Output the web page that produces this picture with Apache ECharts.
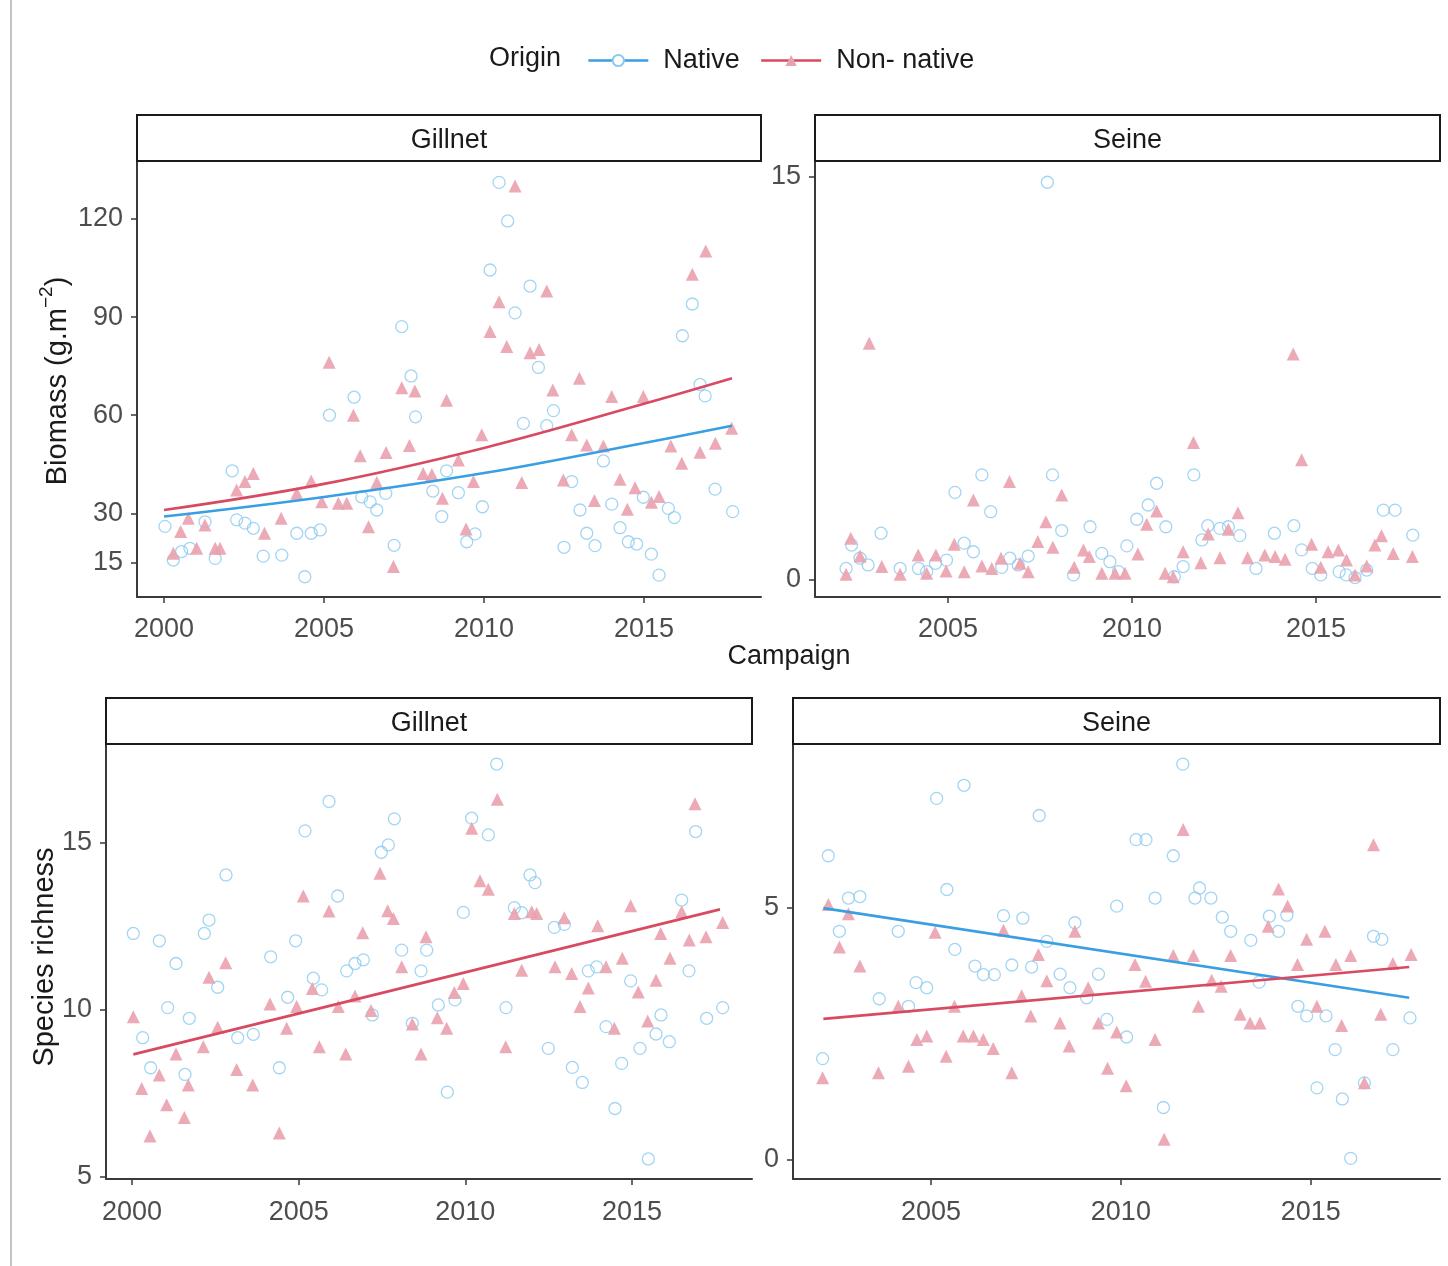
<!DOCTYPE html>
<html>
<head>
<meta charset="utf-8">
<script src="https://cdn.jsdelivr.net/npm/echarts@6/dist/echarts.min.js"></script>
<style>
  html, body { margin: 0; padding: 0; background: #fff; }
  #chart { width: 1448px; height: 1266px; }
</style>
</head>
<body>
<div id="chart"></div>
<script>
// ---- Data: [campaign (decimal year), value] ----
const gillnetBiomassNative = [
  [2007.43,87.1],[2007.72,72],[2005.94,65.5],[2005.17,60],[2007.86,59.5],[2002.13,43],[2008.83,43],[2008.4,36.8],
  [2006.93,36.1],[2006.18,35],[2006.44,33.5],[2006.65,31],[2008.68,29],[2000.03,26],[2002.27,28],[2002.53,27],
  [2002.79,25.4],[2001.28,27.4],[2004.15,23.9],[2004.6,23.9],[2004.88,24.9],[2000.29,15.7],[2000.55,18.3],
  [2000.81,19.3],[2001.6,16.2],[2003.1,16.9],[2003.68,17.2],[2004.4,10.6],[2007.19,20.2],
  [2010.47,131.2],[2010.74,119.4],[2010.19,104.4],[2011.44,99.5],[2010.97,91.3],[2016.2,84.3],[2016.51,94],
  [2011.7,74.6],[2012.17,61.4],[2011.23,57.5],[2011.96,56.8],[2016.75,69.4],[2016.91,65.9],[2009.2,36.3],
  [2009.95,32],[2009.72,23.7],[2009.46,21.3],[2013.73,46],[2012.74,39.7],[2013,31],[2013.99,32.8],[2013.21,23.9],
  [2013.47,20.1],[2012.5,19.6],[2014.25,25.6],[2014.51,21.3],[2014.77,20.6],[2014.98,34.9],[2015.23,17.5],
  [2015.47,11.1],[2015.76,31.5],[2015.95,28.7],[2017.22,37.4],[2017.77,30.5]
];
const gillnetBiomassNonNative = [
  [2005.16,76.2],[2007.43,68.4],[2007.84,67.4],[2008.83,64.6],[2005.92,60],[2007.67,50.7],[2006.13,47.6],
  [2006.94,48.6],[2008.1,42.2],[2008.37,41.9],[2002.79,42.2],[2002.53,39.7],[2002.27,37.1],[2004.6,39.9],
  [2006.65,39.4],[2004.15,36.1],[2004.93,33.5],[2005.45,33.1],[2005.71,33.1],[2008.7,34.6],[2000.76,28.5],
  [2001.28,26.4],[2000.52,24.4],[2003.66,28.5],[2003.14,23.9],[2006.39,25.9],[2000.29,17.8],[2001.02,19.3],
  [2001.6,19.3],[2001.75,19.3],[2007.17,13.7],
  [2010.97,130.1],[2016.93,110.2],[2016.51,103.1],[2011.96,98],[2010.47,94.7],[2010.19,85.6],[2010.71,81],
  [2011.44,79.1],[2011.72,80.1],[2012.98,71.3],[2012.15,67.7],[2013.99,65.7],[2014.98,65.7],[2009.93,54],
  [2012.74,54],[2013.21,50.9],[2013.73,50.6],[2015.84,50.6],[2017.74,56],[2017.23,51.4],[2016.75,48.7],
  [2016.18,45.3],[2009.2,46.3],[2009.67,39.7],[2011.18,39.4],[2012.48,40.2],[2014.25,40.4],[2014.72,37.8],
  [2015.47,35.1],[2015.23,33.4],[2013.45,33.9],[2014.48,31.2],[2009.44,25.2]
];
const gillnetBiomassNativeTrend = [[2000,29],[2005,35],[2010,42.3],[2015,51.5],[2017.75,56.8]];
const gillnetBiomassNonNativeTrend = [[2000,31],[2005,39],[2010,50],[2015,63.5],[2017.75,71.3]];

const seineBiomassNative = [
  [2007.7,14.8],[2005.92,3.91],[2007.84,3.91],[2005.19,3.26],[2006.16,2.54],[2003.18,1.74],[2008.86,1.98],
  [2008.09,1.84],[2002.38,1.3],[2005.44,1.37],[2005.69,1.05],[2009.86,1.27],[2009.18,0.99],[2007.18,0.89],
  [2006.68,0.81],[2004.96,0.74],[2004.66,0.62],[2002.83,0.56],[2002.61,0.81],[2002.23,0.43],[2003.7,0.43],
  [2004.2,0.43],[2004.42,0.31],[2006.46,0.47],[2006.91,0.56],[2008.41,0.19],[2009.4,0.68],[2009.63,0.31],
  [2011.68,3.91],[2010.67,3.6],[2010.44,2.79],[2010.13,2.26],[2010.92,1.98],[2016.83,2.6],[2017.15,2.6],
  [2014.4,2.02],[2013.87,1.74],[2012.06,2.02],[2012.39,1.92],[2012.62,1.98],[2012.93,1.65],[2011.9,1.49],
  [2017.63,1.67],[2014.61,1.12],[2011.39,0.5],[2013.37,0.43],[2014.9,0.43],[2015.13,0.19],[2015.63,0.31],
  [2015.82,0.19],[2016.06,0.09],[2016.38,0.37],[2011.15,0.12]
];
const seineBiomassNonNative = [
  [2002.86,8.81],[2006.67,3.66],[2008.09,3.16],[2005.69,2.98],[2007.66,2.17],[2002.36,1.55],[2002.61,0.89],
  [2005.17,1.33],[2007.44,1.43],[2007.85,1.22],[2008.68,1.12],[2008.84,0.87],[2004.19,0.93],[2004.67,0.93],
  [2003.2,0.5],[2002.23,0.21],[2003.7,0.21],[2004.42,0.25],[2004.95,0.33],[2005.44,0.31],[2005.92,0.52],
  [2006.19,0.43],[2006.44,0.81],[2006.96,0.62],[2007.18,0.31],[2008.43,0.47],[2009.18,0.25],[2009.54,0.25],
  [2009.81,0.25],
  [2014.38,8.41],[2011.67,5.12],[2014.61,4.47],[2010.67,2.57],[2010.4,2.07],[2012.88,2.5],[2012.07,1.71],
  [2012.62,1.89],[2016.78,1.65],[2016.6,1.3],[2014.88,1.33],[2015.33,1.05],[2015.61,1.12],[2010.16,0.97],
  [2011.39,1.05],[2012.39,0.83],[2013.14,0.83],[2013.61,0.93],[2013.89,0.87],[2014.16,0.77],[2017.1,0.99],
  [2017.62,0.87],[2015.83,0.74],[2011.87,0.64],[2015.13,0.47],[2016.38,0.52],[2010.9,0.25],[2011.12,0.12],
  [2016.06,0.19]
];

const gillnetRichnessNative = [
  [2005.91,16.24],[2005.19,15.36],[2007.87,15.72],[2007.48,14.72],[2007.69,14.94],[2002.82,14.04],[2006.17,13.41],
  [2002.31,12.69],[2002.17,12.29],[2000.04,12.29],[2000.82,12.07],[2004.91,12.07],[2001.32,11.39],[2004.16,11.59],
  [2008.09,11.79],[2008.84,11.79],[2006.44,11.17],[2006.69,11.39],[2006.94,11.5],[2008.67,11.17],[2005.44,10.95],
  [2005.69,10.6],[2002.57,10.68],[2004.67,10.38],[2001.07,10.07],[2001.72,9.75],[2007.21,9.85],[2008.41,9.6],
  [2000.32,9.17],[2003.17,9.17],[2003.64,9.27],[2000.56,8.27],[2001.59,8.07],[2004.42,8.27],
  [2010.94,17.36],[2010.19,15.74],[2010.69,15.24],[2016.91,15.34],[2011.94,14.04],[2012.09,13.81],[2009.94,12.92],
  [2011.47,13.06],[2011.69,12.91],[2016.49,13.29],[2012.67,12.47],[2012.97,12.56],[2013.69,11.17],[2013.94,11.29],
  [2016.71,11.17],[2014.96,10.87],[2009.19,10.15],[2009.69,10.3],[2011.22,10.07],[2015.87,9.85],[2017.72,10.07],
  [2017.24,9.75],[2014.22,9.5],[2015.72,9.28],[2016.12,9.05],[2012.49,8.85],[2015.24,8.85],[2013.21,8.28],
  [2013.51,7.83],[2014.69,8.4],[2009.46,7.54],[2014.49,7.05],[2015.49,5.54]
];
const gillnetRichnessNonNative = [
  [2007.44,14.09],[2005.14,13.41],[2005.91,12.96],[2007.67,12.97],[2007.84,12.74],[2006.92,12.31],[2008.82,12.19],
  [2002.81,11.41],[2008.09,11.29],[2002.31,10.98],[2005.41,10.64],[2004.14,10.18],[2004.94,10.1],[2006.69,10.42],
  [2006.19,10.1],[2007.17,9.98],[2000.04,9.8],[2008.41,9.58],[2002.57,9.48],[2004.64,9.45],[2002.14,8.9],
  [2001.32,8.68],[2005.62,8.9],[2006.41,8.68],[2008.67,8.68],[2000.82,8.05],[2001.69,7.75],[2000.29,7.65],
  [2003.14,8.22],[2003.62,7.75],[2001.04,7.16],[2001.57,6.78],[2000.54,6.23],[2004.42,6.32],
  [2010.96,16.31],[2016.89,16.17],[2010.19,15.44],[2010.44,13.87],[2010.69,13.61],[2011.47,12.89],[2011.99,12.94],
  [2012.14,12.89],[2012.97,12.76],[2014.96,13.12],[2016.49,12.94],[2013.97,12.52],[2015.86,12.29],[2016.72,12.09],
  [2017.22,12.19],[2017.72,12.62],[2014.71,11.55],[2016.14,11.55],[2014.22,11.29],[2012.69,11.29],[2011.69,11.19],
  [2013.19,11.09],[2013.69,10.66],[2015.72,10.89],[2015.19,10.54],[2009.94,10.79],[2009.67,10.52],[2013.44,10.1],
  [2009.16,9.77],[2009.44,9.45],[2015.47,9.67],[2014.47,9.45],[2011.21,8.9]
];
const gillnetRichnessNonNativeTrend = [[2000.04,8.67],[2017.64,13.01]];

const seineRichnessNative = [
  [2005.87,7.43],[2005.15,7.17],[2007.85,6.83],[2002.3,6.03],[2005.42,5.36],[2002.83,5.19],[2003.13,5.22],
  [2009.89,5.03],[2006.91,4.84],[2007.42,4.79],[2008.79,4.7],[2002.59,4.53],[2004.14,4.53],[2005.63,4.17],
  [2006.16,3.84],[2006.38,3.67],[2006.67,3.67],[2007.13,3.86],[2007.65,3.82],[2008.05,4.33],[2008.4,3.68],
  [2008.66,3.41],[2009.41,3.68],[2004.61,3.51],[2004.89,3.41],[2003.64,3.19],[2004.41,3.04],[2009.1,3.21],
  [2009.63,2.78],[2002.15,2.0],
  [2011.63,7.85],[2010.4,6.35],[2010.66,6.35],[2011.38,6.03],[2012.07,5.39],[2011.95,5.19],[2012.37,5.19],
  [2010.9,5.19],[2012.67,4.81],[2012.89,4.53],[2013.42,4.35],[2013.91,4.83],[2014.37,4.85],[2014.15,4.53],
  [2016.65,4.43],[2016.87,4.37],[2013.64,3.52],[2014.66,3.04],[2014.89,2.85],[2015.4,2.85],[2017.61,2.81],
  [2010.15,2.43],[2015.64,2.18],[2017.16,2.18],[2015.16,1.42],[2015.83,1.2],[2016.41,1.52],[2011.12,1.03],
  [2016.05,0.02]
];
const seineRichnessNonNative = [
  [2002.3,5.06],[2002.83,4.88],[2002.59,4.22],[2003.13,3.84],[2005.11,4.51],[2006.91,4.55],[2008.79,4.53],
  [2007.83,4.07],[2008.05,3.55],[2009.14,3.41],[2007.39,3.25],[2004.14,3.04],[2005.62,3.04],[2007.63,2.85],
  [2008.4,2.71],[2009.41,2.71],[2009.89,2.53],[2004.63,2.38],[2004.89,2.45],[2005.85,2.45],[2006.12,2.45],
  [2006.38,2.38],[2006.64,2.2],[2008.64,2.25],[2005.4,2.05],[2004.41,1.85],[2003.62,1.72],[2007.13,1.72],
  [2009.65,1.81],[2002.15,1.62],
  [2011.64,6.55],[2016.65,6.25],[2014.15,5.37],[2014.39,5.03],[2013.88,4.63],[2015.37,4.53],[2014.89,4.37],
  [2010.37,3.87],[2011.38,4.05],[2011.91,4.05],[2012.89,4.05],[2016.05,4.05],[2017.64,4.07],[2014.65,3.87],
  [2015.66,3.87],[2017.16,3.89],[2010.65,3.54],[2012.39,3.56],[2012.64,3.44],[2012.04,3.04],[2015.16,3.04],
  [2013.14,2.88],[2013.4,2.71],[2013.66,2.71],[2016.84,2.88],[2015.81,2.66],[2010.9,2.38],[2010.14,1.46],
  [2016.41,1.52],[2011.14,0.4]
];
const seineRichnessNativeTrend = [[2002.17,4.99],[2017.59,3.21]];
const seineRichnessNonNativeTrend = [[2002.17,2.79],[2017.59,3.82]];

// ---- Tick labels ----
const yearTicksFull = [2000, 2005, 2010, 2015];
const yearTicksSeine = [2005, 2010, 2015];
const biomassGillnetTicks = [15, 30, 60, 90, 120];
const biomassSeineTicks = [0, 15];
const richnessGillnetTicks = [5, 10, 15];
const richnessSeineTicks = [0, 5];

const panelTitles = ['Gillnet', 'Seine', 'Gillnet', 'Seine'];
const legendNames = ['Native', 'Non- native'];

// ---- Styling ----
const FONT = "'Liberation Sans', Arial, Helvetica, sans-serif";
const NATIVE_PT = '#8ccbf0';
const NONNATIVE_PT = '#e9a1ae';
const NATIVE_LINE = '#3a9fe2';
const NONNATIVE_LINE = '#d84a62';
const AXIS_COL = '#3a3a3a';
const TICK_TEXT = '#4d4d4d';

const grids = [
  { left: 137, top: 161, width: 624, height: 436 },
  { left: 815, top: 161, width: 625, height: 436 },
  { left: 106, top: 744, width: 646, height: 435 },
  { left: 793, top: 744, width: 647, height: 435 }
];

const plainNumber = v => String(v);

function xAxis(gridIndex, min, max, ticks, margin) {
  return {
    type: 'value', gridIndex, min, max,
    splitLine: { show: false },
    axisLine: { show: true, onZero: false, lineStyle: { color: AXIS_COL, width: 2 } },
    axisTick: { show: true, length: 6, lineStyle: { color: AXIS_COL, width: 1.5 }, customValues: ticks },
    axisLabel: { customValues: ticks, formatter: plainNumber, fontSize: 27, color: TICK_TEXT, fontFamily: FONT, margin }
  };
}
function yAxis(gridIndex, min, max, ticks) {
  return {
    type: 'value', gridIndex, min, max,
    splitLine: { show: false },
    axisLine: { show: true, onZero: false, lineStyle: { color: AXIS_COL, width: 2 } },
    axisTick: { show: true, length: 6, lineStyle: { color: AXIS_COL, width: 1.5 }, customValues: ticks },
    axisLabel: { customValues: ticks, formatter: plainNumber, fontSize: 27, color: TICK_TEXT, fontFamily: FONT, margin: 14 }
  };
}

function nativePoints(idx, data) {
  return {
    name: 'Native', type: 'scatter', xAxisIndex: idx, yAxisIndex: idx, data,
    symbol: 'circle', symbolSize: 12, z: 2,
    itemStyle: { color: 'rgba(0,0,0,0)', borderColor: NATIVE_PT, borderWidth: 1.3 },
    emphasis: { disabled: true }
  };
}
function nonNativePoints(idx, data) {
  return {
    name: 'Non- native', type: 'scatter', xAxisIndex: idx, yAxisIndex: idx, data,
    symbol: 'triangle', symbolSize: 13, z: 2,
    itemStyle: { color: NONNATIVE_PT, opacity: 0.9 },
    emphasis: { disabled: true }
  };
}
function trend(name, idx, data, color, symbol, smooth) {
  return {
    name, type: 'line', xAxisIndex: idx, yAxisIndex: idx, data,
    symbol, showSymbol: false, smooth: smooth ? 0.4 : false, z: 4,
    lineStyle: { color, width: 2.6 },
    itemStyle: { color },
    emphasis: { disabled: true }
  };
}

// Width of a text string, used to place the superscript in the biomass title
function textWidth(str, size) {
  const ctx = document.createElement('canvas').getContext('2d');
  ctx.font = size + 'px ' + FONT;
  return ctx.measureText(str).width;
}

const TITLE_SIZE = 29;
const bioMain = 'Biomass (g.m';
const bioSup = '\u22122';
const wMain = textWidth(bioMain, TITLE_SIZE);
const wSup = textWidth(bioSup, 19);
const wClose = textWidth(')', TITLE_SIZE);
const bioTotal = wMain + wSup + wClose;
const bioCenterY = 381;

function strip(idx, text) {
  const g = grids[idx];
  return [
    { type: 'rect', shape: { x: g.left, y: g.top - 46, width: g.width, height: 46 },
      style: { fill: '#ffffff', stroke: '#1a1a1a', lineWidth: 2 }, z: 10 },
    { type: 'text', x: g.left + g.width / 2, y: g.top - 20, z: 11,
      style: { text, fontSize: 27, fontFamily: FONT, fill: '#1a1a1a', align: 'center', verticalAlign: 'middle' } }
  ];
}

const graphics = [
  { type: 'rect', shape: { x: 10, y: 0, width: 2, height: 1266 }, style: { fill: '#c4c4c4' } },
  ...strip(0, panelTitles[0]), ...strip(1, panelTitles[1]), ...strip(2, panelTitles[2]), ...strip(3, panelTitles[3]),
  { type: 'text', x: 489, y: 59, style: { text: 'Origin', fontSize: 27, fontFamily: FONT, fill: '#1a1a1a', align: 'left', verticalAlign: 'middle' } },
  { type: 'text', x: 789, y: 657, style: { text: 'Campaign', fontSize: 27, fontFamily: FONT, fill: '#1a1a1a', align: 'center', verticalAlign: 'middle' } },
  { type: 'group', x: 58, y: bioCenterY + bioTotal / 2, rotation: Math.PI / 2,
    children: [
      { type: 'text', x: 0, y: 0, style: { text: bioMain, fontSize: TITLE_SIZE, fontFamily: FONT, fill: '#1a1a1a', align: 'left', verticalAlign: 'middle' } },
      { type: 'text', x: wMain, y: -11, style: { text: bioSup, fontSize: 19, fontFamily: FONT, fill: '#1a1a1a', align: 'left', verticalAlign: 'middle' } },
      { type: 'text', x: wMain + wSup, y: 0, style: { text: ')', fontSize: TITLE_SIZE, fontFamily: FONT, fill: '#1a1a1a', align: 'left', verticalAlign: 'middle' } }
    ] },
  { type: 'text', x: 45, y: 957, rotation: Math.PI / 2,
    style: { text: 'Species richness', fontSize: TITLE_SIZE, fontFamily: FONT, fill: '#1a1a1a', align: 'center', verticalAlign: 'middle' } }
];

const option = {
  backgroundColor: '#ffffff',
  animation: false,
  textStyle: { fontFamily: FONT },
  legend: {
    data: [
      { name: legendNames[0], itemStyle: { color: NATIVE_PT }, lineStyle: { color: NATIVE_LINE, width: 2.6 } },
      { name: legendNames[1], itemStyle: { color: NONNATIVE_PT }, lineStyle: { color: NONNATIVE_LINE, width: 2.6 } }
    ],
    left: 582, top: 42,
    itemWidth: 60, itemHeight: 14, itemGap: 20,
    selectedMode: false,
    textStyle: { fontSize: 27, color: '#1a1a1a', fontFamily: FONT, padding: [0, 0, 0, 10] }
  },
  grid: grids,
  xAxis: [
    xAxis(0, 1999.156, 2018.656, yearTicksFull, 19),
    xAxis(1, 2001.386, 2018.37, yearTicksSeine, 19),
    xAxis(2, 1999.22, 2018.6, yearTicksFull, 20),
    xAxis(3, 2001.37, 2018.40, yearTicksSeine, 20)
  ],
  yAxis: [
    yAxis(0, 4.4, 137.74, biomassGillnetTicks),
    yAxis(1, -0.633, 15.59, biomassSeineTicks),
    yAxis(2, 4.94, 17.96, richnessGillnetTicks),
    yAxis(3, -0.39, 8.25, richnessSeineTicks)
  ],
  series: [
    trend('Native', 0, gillnetBiomassNativeTrend, NATIVE_LINE, 'emptyCircle', true),
    trend('Non- native', 0, gillnetBiomassNonNativeTrend, NONNATIVE_LINE, 'triangle', true),
    nativePoints(0, gillnetBiomassNative),
    nonNativePoints(0, gillnetBiomassNonNative),
    nativePoints(1, seineBiomassNative),
    nonNativePoints(1, seineBiomassNonNative),
    nativePoints(2, gillnetRichnessNative),
    nonNativePoints(2, gillnetRichnessNonNative),
    trend('Non- native', 2, gillnetRichnessNonNativeTrend, NONNATIVE_LINE, 'triangle', false),
    nativePoints(3, seineRichnessNative),
    nonNativePoints(3, seineRichnessNonNative),
    trend('Native', 3, seineRichnessNativeTrend, NATIVE_LINE, 'emptyCircle', false),
    trend('Non- native', 3, seineRichnessNonNativeTrend, NONNATIVE_LINE, 'triangle', false)
  ],
  graphic: graphics
};

const chart = echarts.init(document.getElementById('chart'), null, { renderer: 'canvas' });
chart.setOption(option);
</script>
</body>
</html>
